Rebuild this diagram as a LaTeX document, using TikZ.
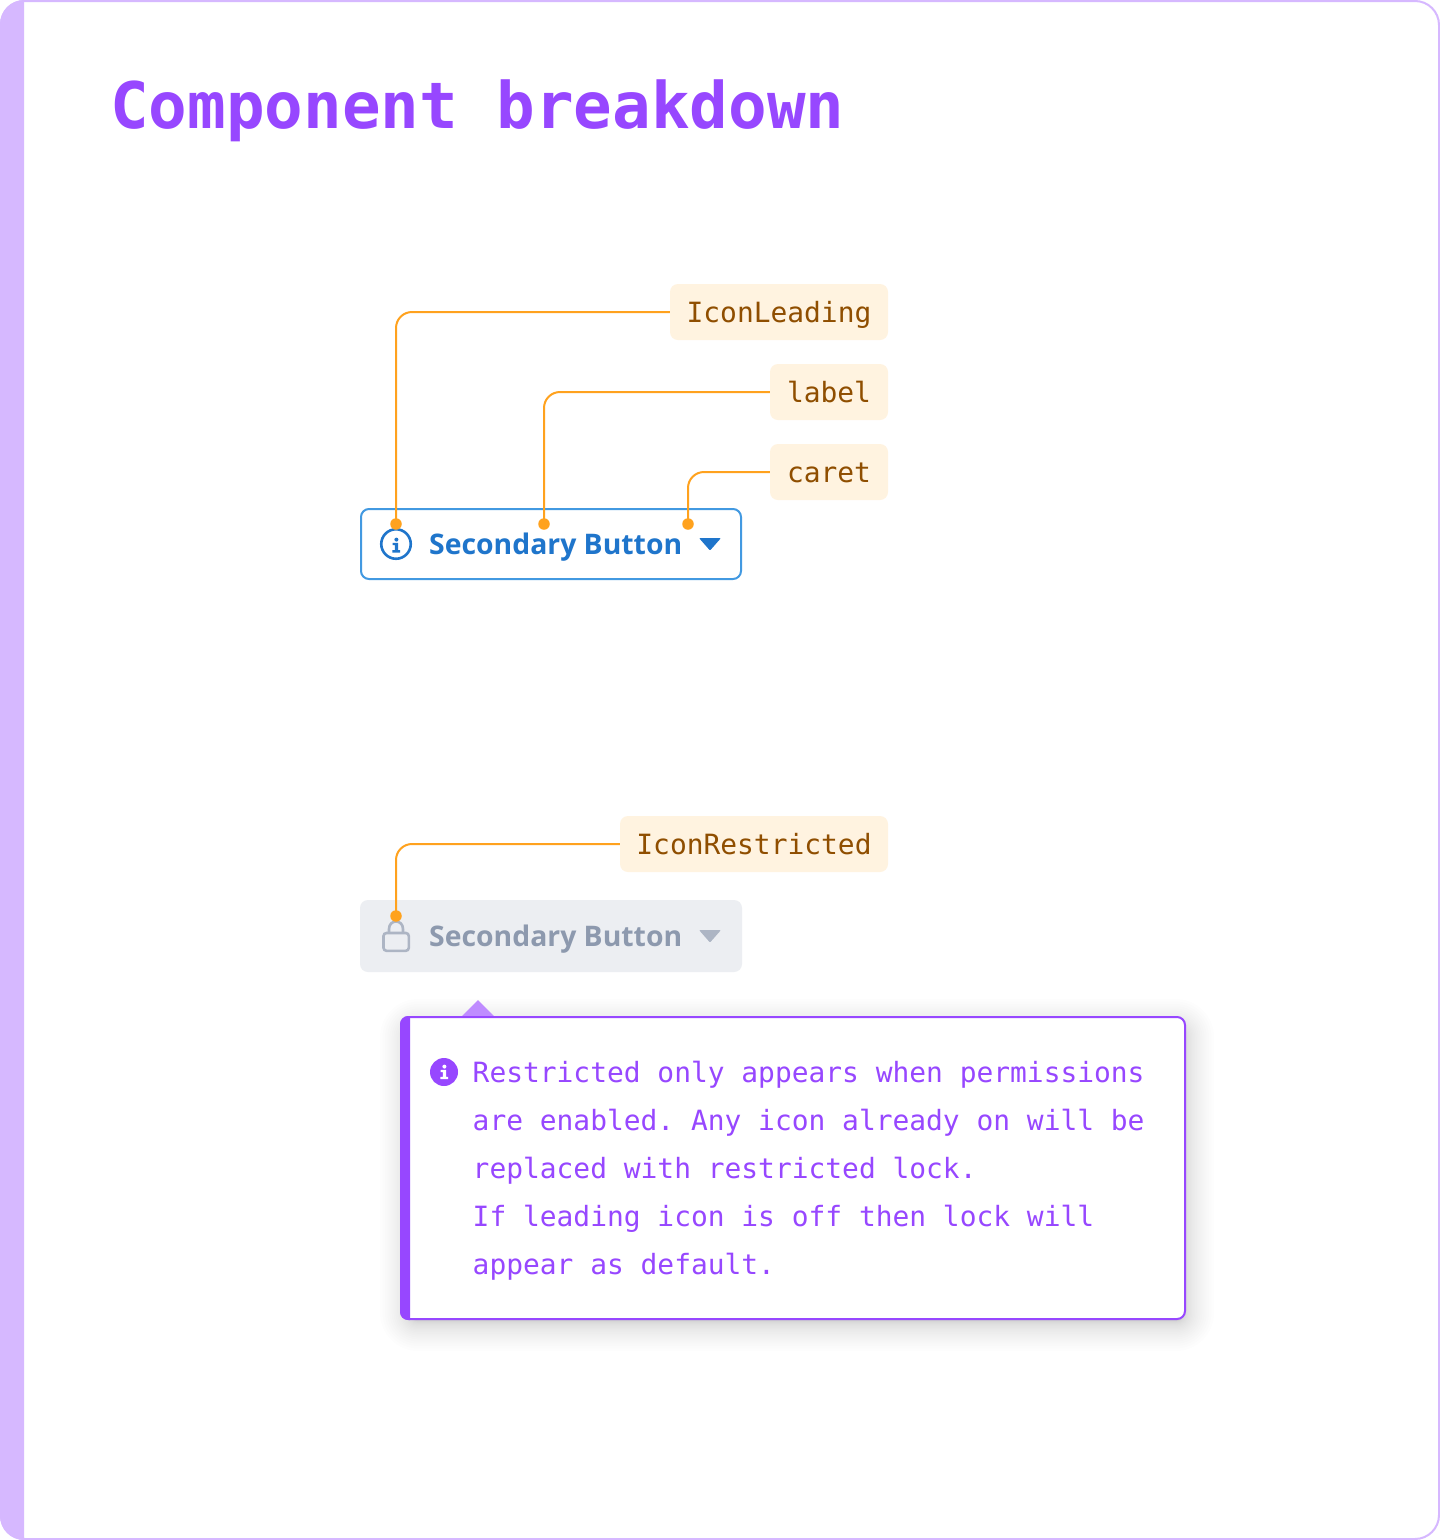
\documentclass[tikz,border=0pt]{standalone}
\usepackage{fontspec}
\setmainfont{Open Sans}
\newfontfamily\monof{DejaVu Sans Mono}
\newfontfamily\btnf{Open Sans}
\definecolor{cardline}{HTML}{D6B8FF}
\definecolor{violet}{HTML}{9747FF}
\definecolor{violetlight}{HTML}{BF8CFF}
\definecolor{tagfill}{HTML}{FFF3E0}
\definecolor{tagtext}{HTML}{8F4E00}
\definecolor{leader}{HTML}{FFA21E}
\definecolor{btnline}{HTML}{4299E1}
\definecolor{btntext}{HTML}{1F75CB}
\definecolor{offfill}{HTML}{ECEEF2}
\definecolor{offtext}{HTML}{8D99AE}
\definecolor{officon}{HTML}{ADB5C4}
\tikzset{
  tagbox/.style={fill=tagfill,rounded corners=8,inner sep=0,anchor=center,text=tagtext,font=\monof\fontsize{27.9}{28}\selectfont,text height=24,text depth=4},
  leaderline/.style={draw=leader,line width=2,rounded corners=16},
  leaderdot/.style={circle,fill=leader,inner sep=0,minimum size=11.5},
  btnlabel/.style={anchor=base west,inner sep=0,font=\btnf\bfseries\fontsize{28.35}{29}\selectfont},
  notetext/.style={anchor=base west,inner sep=0,text=violet,font=\monof\fontsize{27.9}{28}\selectfont},
}
\begin{document}
\frenchspacing
\begin{tikzpicture}[x=1pt,y=-1pt]
\useasboundingbox (0,0) rectangle (1440,1540);
% card
\fill[white] (0,0) rectangle (1440,1540);
\draw[cardline,line width=2,rounded corners=24] (1,1) rectangle (1439,1539);
\fill[cardline] (24,0) .. controls (10.7,0) and (0,10.7) .. (0,24) -- (0,1516) .. controls (0,1529.3) and (10.7,1540) .. (24,1540) -- cycle;
\node[anchor=base west,inner sep=0,text=violet,font=\monof\bfseries\fontsize{64.2}{65}\selectfont] (title) at (110,128) {Component breakdown};

% tags
\node[tagbox,minimum width=218,minimum height=56] (tagA) at (779,312) {IconLeading};
\node[tagbox,minimum width=118,minimum height=56] (tagB) at (829,392) {label};
\node[tagbox,minimum width=118,minimum height=56] (tagC) at (829,472) {caret};
\node[tagbox,minimum width=268,minimum height=56] (tagD) at (754,844) {IconRestricted};

% button 1
\node[draw=btnline,line width=2,fill=white,rounded corners=8,minimum width=380,minimum height=70,inner sep=0] (btnA) at (551,544) {};
\node[circle,draw=btntext,line width=2.6,inner sep=0,minimum size=29.5] (iconA) at (396,544) {};
\fill[btntext] (396.4,539.6) circle (2);
\fill[btntext] (392.6,542.8) -- (398.2,542.8) -- (398.2,550.2) -- (400.2,550.2) -- (400.2,552.6) -- (392.4,552.6) -- (392.4,550.2) -- (394.8,550.2) -- (394.8,545.2) -- (392.6,545.2) -- cycle;
\node[btnlabel,text=btntext] (txtA) at (429,554.5) {Secondary Button};
\fill[btntext,rounded corners=1] (699,538) -- (721,538) -- (710,550.5) -- cycle;

% button 2
\node[fill=offfill,rounded corners=8,minimum width=382,minimum height=72,inner sep=0] (btnB) at (551,936) {};
\draw[officon,line width=2.6,rounded corners=3] (383.5,933) rectangle (408.8,950.8);
\draw[officon,line width=2.6] (389,933) -- (389,929) .. controls (389,919) and (403,919) .. (403,929) -- (403,933);
\node[btnlabel,text=offtext] (txtB) at (429,946.5) {Secondary Button};
\fill[officon,rounded corners=1] (699,930) -- (721,930) -- (710,942.5) -- cycle;

% leaders
\node[leaderdot] (dotA) at (396,524) {};
\node[leaderdot] (dotB) at (544,524) {};
\node[leaderdot] (dotC) at (688,524) {};
\node[leaderdot] (dotD) at (396,916) {};
\draw[leaderline] (tagA.west) -| (dotA.center);
\draw[leaderline] (tagB.west) -| (dotB.center);
\draw[leaderline] (tagC.west) -| (dotC.center);
\draw[leaderline] (tagD.west) -| (dotD.center);

% callout shadow
\foreach \i in {0,...,23}{
  \pgfmathsetmacro{\g}{-6+30*(\i/23)*(\i/23)}
  \fill[black,opacity=0.0075,rounded corners=8+\g+6] (400+4-\g,1016+7-\g) rectangle (1186+4+\g,1320+7+\g);
}
% pointer
\fill[violetlight] (461,1017) -- (478,1000) -- (495,1017) -- cycle;
% callout
\node[draw=violet,line width=2,fill=white,rounded corners=8,minimum width=784,minimum height=302,inner sep=0] (note) at (793,1168) {};
\fill[violet] (410,1016) -- (408,1016) .. controls (403.6,1016) and (400,1019.6) .. (400,1024) -- (400,1312) .. controls (400,1316.4) and (403.6,1320) .. (408,1320) -- (410,1320) -- cycle;
\node[circle,fill=violet,inner sep=0,minimum size=28] (iconN) at (444,1072) {};
\fill[white] (444.4,1066.6) circle (2);
\fill[white] (440.6,1069.8) -- (446.2,1069.8) -- (446.2,1076.8) -- (448.2,1076.8) -- (448.2,1079.2) -- (440.4,1079.2) -- (440.4,1076.8) -- (442.8,1076.8) -- (442.8,1072.2) -- (440.6,1072.2) -- cycle;
\node[notetext] (l1) at (472.5,1082) {Restricted only appears when permissions};
\node[notetext] (l2) at (472.5,1130) {are enabled. Any icon already on will be};
\node[notetext] (l3) at (472.5,1178) {replaced with restricted lock.};
\node[notetext] (l4) at (472.5,1226) {If leading icon is off then lock will};
\node[notetext] (l5) at (472.5,1274) {appear as default.};
\end{tikzpicture}
\end{document}
